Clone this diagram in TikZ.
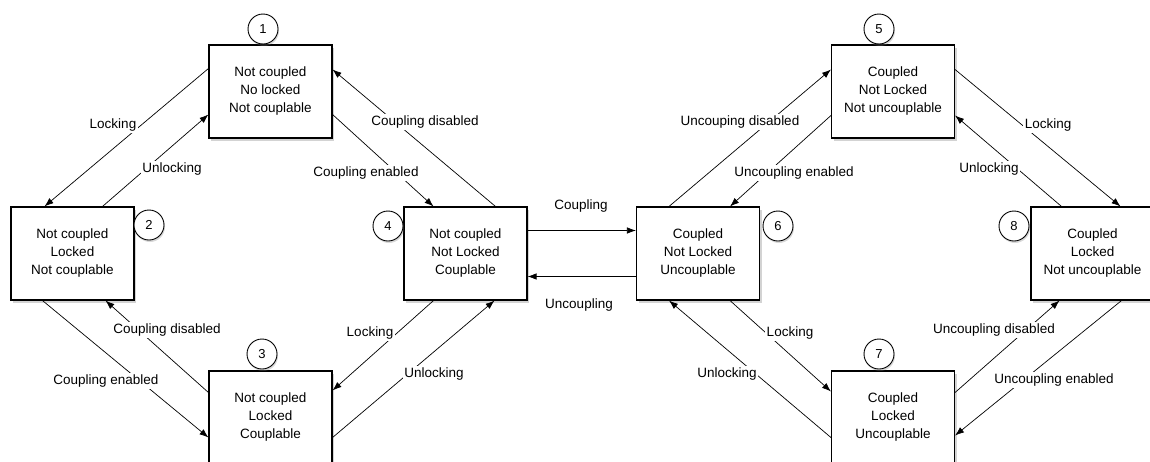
\documentclass[tikz,border=0pt]{standalone}
\usepackage{fontspec}
\setmainfont{Liberation Sans}
\usetikzlibrary{positioning,arrows.meta,shadows}
\tikzset{
	chart/.style={>={Latex[length=9pt,width=6.5pt]},x=1pt,y=-1pt,line width=0.7pt,
		font=\fontsize{13.5}{18}\selectfont},
	state/.style={rectangle,draw,line width=1.1pt,fill=white,minimum width=123pt,
		minimum height=93pt,align=center,
		drop shadow={shadow xshift=2pt,shadow yshift=-3pt,opacity=0.35}},
	tag/.style={circle,draw,line width=0.9pt,fill=white,minimum size=30pt,inner sep=0pt,
		font=\fontsize{13}{13}\selectfont,
		drop shadow={shadow xshift=1pt,shadow yshift=-2pt,opacity=0.3}},
	trans/.style={fill=white,inner sep=1.5pt}
}

\begin{document}
\begin{tikzpicture}[chart]
	\useasboundingbox (0,0) rectangle (1150,461);
	
	% states
	\node[state] (b1) at (270.5,91.5) {Not coupled\\No locked\\Not couplable};
	\node[state] (b2) at (72.5,253.5) {Not coupled\\Locked\\Not couplable};
	\node[state] (b3) at (270.5,417.5) {Not coupled\\Locked\\Couplable};
	\node[state] (b4) at (465.5,253.5) {Not coupled\\Not Locked\\Couplable};
	\node[state] (b6) at (698,253.5) {Coupled\\Not Locked\\Uncouplable};
	\node[state] (b5) at (893,91.5) {Coupled\\Not Locked\\Not uncouplable};
	\node[state] (b7) at (893,417.5) {Coupled\\Locked\\Uncouplable};
	\node[state] (b8) at (1092.5,253.5) {Coupled\\Locked\\Not uncouplable};
	
	% numbers
	\node[tag] (n1) at (263,29) {1};
	\node[tag] (n2) at (149,225) {2};
	\node[tag] (n3) at (262,354) {3};
	\node[tag] (n4) at (388,226) {4};
	\node[tag] (n5) at (879,29) {5};
	\node[tag] (n6) at (778,226) {6};
	\node[tag] (n7) at (879,354) {7};
	\node[tag] (n8) at (1014,226) {8};
	
	% transitions
	\path[->] ([yshift=23pt]b1.west) edge ([xshift=-28pt]b2.north);
	\path[->] ([xshift=30pt]b2.north) edge ([yshift=-23pt]b1.west);
	\path[->] ([xshift=-30pt]b2.south) edge ([yshift=-20pt]b3.west);
	\path[->] ([yshift=25pt]b3.west) edge ([xshift=33pt]b2.south);
	\path[->] ([yshift=-23pt]b1.east) edge ([xshift=-32pt]b4.north);
	\path[->] ([xshift=30pt]b4.north) edge ([yshift=22pt]b1.east);
	\path[->] ([xshift=-32pt]b4.south) edge ([yshift=27pt]b3.east);
	\path[->] ([yshift=-20pt]b3.east) edge ([xshift=29pt]b4.south);
	\path[->] ([yshift=23pt]b4.east) edge ([yshift=23pt]b6.west);
	\path[->] ([yshift=-23pt]b6.west) edge ([yshift=-23pt]b4.east);
	\path[->] ([xshift=-29pt]b6.north) edge ([yshift=22pt]b5.west);
	\path[->] ([yshift=-24pt]b5.west) edge ([xshift=32pt]b6.north);
	\path[->] ([xshift=32pt]b6.south) edge ([yshift=26pt]b7.west);
	\path[->] ([yshift=-20pt]b7.west) edge ([xshift=-29pt]b6.south);
	\path[->] ([yshift=22pt]b5.east) edge ([xshift=28pt]b8.north);
	\path[->] ([xshift=-31pt]b8.north) edge ([yshift=-24pt]b5.east);
	\path[->] ([yshift=25pt]b7.east) edge ([xshift=-33pt]b8.south);
	\path[->] ([xshift=29pt]b8.south) edge ([yshift=-18pt]b7.east);
	
	% transition labels
	\node[trans] (l12) at (113,125) {Locking};
	\node[trans] (l21) at (172,169) {Unlocking};
	\node[trans] (l32) at (167,330) {Coupling disabled};
	\node[trans] (l23) at (106,381) {Coupling enabled};
	\node[trans] (l41) at (425,122) {Coupling disabled};
	\node[trans] (l14) at (366,173) {Coupling enabled};
	\node[trans] (l43) at (370,333) {Locking};
	\node[trans] (l34) at (434,374) {Unlocking};
	\node[trans] (l46) at (581,206) {Coupling};
	\node[trans] (l64) at (579,305) {Uncoupling};
	\node[trans] (l65) at (740,122) {Uncouping disabled};
	\node[trans] (l56) at (794,173) {Uncoupling enabled};
	\node[trans] (l67) at (790,333) {Locking};
	\node[trans] (l76) at (727,374) {Unlocking};
	\node[trans] (l58) at (1048,125) {Locking};
	\node[trans] (l85) at (989,169) {Unlocking};
	\node[trans] (l78) at (994,330) {Uncoupling disabled};
	\node[trans] (l87) at (1054,380) {Uncoupling enabled};
\end{tikzpicture}
\end{document}
